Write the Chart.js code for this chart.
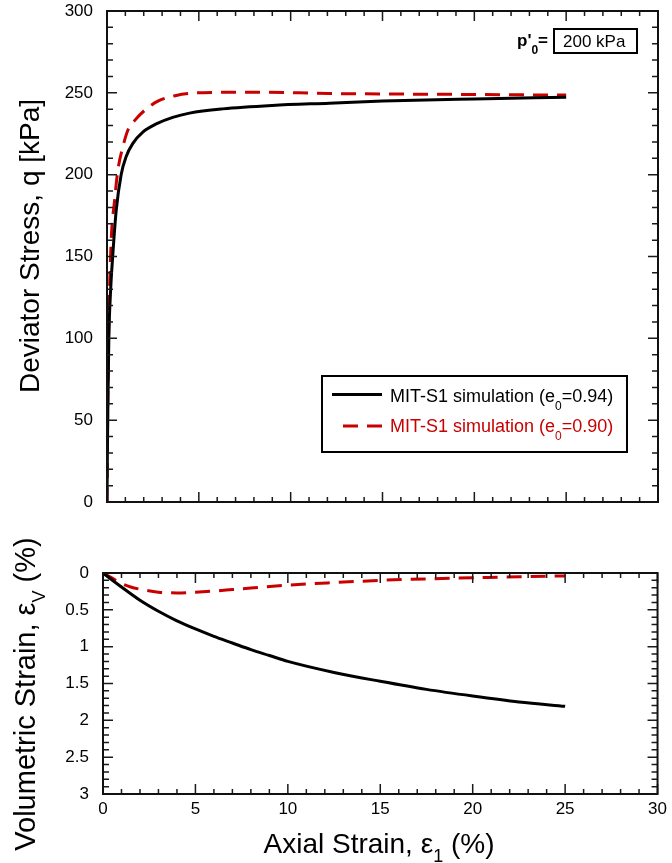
<!DOCTYPE html>
<html><head><meta charset="utf-8">
<script src="https://cdn.jsdelivr.net/npm/chart.js@4.4.1/dist/chart.umd.min.js"></script>
<style>
html,body{margin:0;padding:0;background:#fff;}
#wrap{position:relative;width:672px;height:863px;overflow:hidden;}
#c1{position:absolute;left:0;top:0;}
#c2{position:absolute;left:0;top:520px;}
</style></head><body>
<div id="wrap"><canvas id="c1" width="672" height="520"></canvas><canvas id="c2" width="672" height="343"></canvas></div>
<script>
const FONT = '"Liberation Sans", Arial, Helvetica, sans-serif';

// ---- data: deviator stress q [kPa] vs axial strain (%) ----
const strainQ_e094 = [0, 0.02, 0.05, 0.1, 0.2, 0.31, 0.5, 0.77, 1.04, 1.4, 1.95, 2.68, 3.58, 4.49, 6.3, 9.0, 12.1, 15, 20, 25];
const q_e094       = [0, 30, 60, 100, 130, 150, 178, 200, 211, 219, 226, 231, 235, 237.6, 240.2, 242.3, 243.7, 245, 246.3, 247.3];
const strainQ_e090 = [0, 0.02, 0.05, 0.1, 0.23, 0.41, 0.59, 0.86, 1.13, 1.5, 2.04, 2.77, 3.77, 4.67, 6.0, 8.1, 12.1, 15, 20, 25];
const q_e090       = [0, 35, 70, 110, 160, 184, 202.6, 216.8, 227, 233, 239.2, 244.9, 248.4, 249.8, 250.3, 250.4, 249.6, 249.3, 249, 248.6];

// ---- data: volumetric strain (%) vs axial strain (%) ----
const strainV_e094 = [0, 1, 2, 3, 4, 5, 6, 7, 8, 9, 10, 12.5, 15, 17.5, 20, 22.5, 25];
const volStrain_e094 = [0, 0.19, 0.37, 0.52, 0.65, 0.76, 0.86, 0.95, 1.04, 1.12, 1.2, 1.35, 1.47, 1.58, 1.67, 1.75, 1.81];
const strainV_e090 = [0, 0.5, 1, 1.5, 2, 3, 4, 5, 6, 7, 8, 10, 12.5, 15, 17.5, 20, 22.5, 25];
const volStrain_e090 = [0, 0.07, 0.14, 0.19, 0.22, 0.26, 0.27, 0.26, 0.245, 0.225, 0.205, 0.165, 0.13, 0.1, 0.08, 0.065, 0.05, 0.04];

// ---- axis ranges / ticks ----
const axialRange = [0, 30];       // major 5, minor 1
const qRange = [0, 300];          // major 50, minor 10
const volRange = [0, 3];          // major 0.5, minor 0.1

// ---- texts ----
const legendTexts = [
  [{t:'MIT-S1 simulation (e'},{t:'0',sub:true},{t:'=0.94)'}],
  [{t:'MIT-S1 simulation (e'},{t:'0',sub:true},{t:'=0.90)'}]
];
const pressureLabel = [{t:"p'"},{t:'0',sub:true},{t:'='}];
const pressureValue = '200 kPa';
const titleQ = [{t:'Deviator Stress, q [kPa]'}];
const titleV = [{t:'Volumetric Strain, ε'},{t:'V',sub:true},{t:' (%)'}];
const titleX = [{t:'Axial Strain, ε'},{t:'1',sub:true},{t:' (%)'}];

const BLACK = '#000000';
const RED = '#c80000';

const pts = (xs, ys) => xs.map((x, i) => ({x, y: ys[i]}));

function richWidth(ctx, segs, size, weight, subScale){
  let w = 0;
  for (const s of segs){
    const fs = s.sub ? Math.round(size*subScale) : size;
    ctx.font = `${weight} ${fs}px ${FONT}`;
    w += ctx.measureText(s.t).width;
  }
  return w;
}
function drawRich(ctx, segs, x, y, size, weight, color, subScale, subShift, align){
  const w = richWidth(ctx, segs, size, weight, subScale);
  let cx = align === 'center' ? x - w/2 : x;
  ctx.fillStyle = color;
  ctx.textBaseline = 'alphabetic';
  ctx.textAlign = 'left';
  for (const s of segs){
    const fs = s.sub ? Math.round(size*subScale) : size;
    ctx.font = `${weight} ${fs}px ${FONT}`;
    ctx.fillText(s.t, cx, y + (s.sub ? subShift : 0));
    cx += ctx.measureText(s.t).width;
  }
}

const frameTicks = {
  id: 'frameTicks',
  afterDatasetsDraw(chart, args, o){
    const {ctx, chartArea: a} = chart;
    const x = chart.scales.x, y = chart.scales.y;
    ctx.save();
    ctx.strokeStyle = '#1a1a1a';
    ctx.lineWidth = 1.5;
    ctx.beginPath();
    const nx = Math.round((o.xMax - o.xMin)/o.xMinor);
    for (let i = 0; i <= nx; i++){
      const v = o.xMin + i*o.xMinor;
      const px = x.getPixelForValue(v);
      const major = i % Math.round(o.xMajor/o.xMinor) === 0;
      const L = major ? 10 : 5;
      ctx.moveTo(px, a.bottom); ctx.lineTo(px, a.bottom - L);
      ctx.moveTo(px, a.top); ctx.lineTo(px, a.top + L);
    }
    const ny = Math.round((o.yMax - o.yMin)/o.yMinor);
    for (let i = 0; i <= ny; i++){
      const v = o.yMin + i*o.yMinor;
      const py = y.getPixelForValue(v);
      const major = i % Math.round(o.yMajor/o.yMinor) === 0;
      const L = major ? 10 : 6;
      ctx.moveTo(a.left, py); ctx.lineTo(a.left + L, py);
      ctx.moveTo(a.right, py); ctx.lineTo(a.right - L, py);
    }
    ctx.stroke();
    ctx.lineWidth = 2;
    ctx.strokeStyle = '#111';
    ctx.strokeRect(a.left, a.top, a.right - a.left, a.bottom - a.top);
    ctx.restore();
  }
};

const annotations1 = {
  id: 'annotations1',
  afterDraw(chart){
    const ctx = chart.ctx;
    ctx.save();
    ctx.translate(39, 246);
    ctx.rotate(-Math.PI/2);
    drawRich(ctx, titleQ, 0, 0, 28, 'normal', '#000', 0.65, 8, 'center');
    ctx.restore();
    ctx.save();
    drawRich(ctx, pressureLabel, 517, 46, 17, 'bold', '#000', 0.7, 8, 'left');
    ctx.lineWidth = 2; ctx.strokeStyle = '#000';
    ctx.strokeRect(554, 29, 83, 24);
    ctx.font = `normal 17px ${FONT}`;
    ctx.fillStyle = '#000'; ctx.textAlign = 'left'; ctx.textBaseline = 'alphabetic';
    ctx.fillText(pressureValue, 563, 47);
    // legend
    ctx.fillStyle = '#fff';
    ctx.fillRect(322, 376, 305, 76);
    ctx.strokeRect(322, 376, 305, 76);
    ctx.lineWidth = 3;
    ctx.strokeStyle = BLACK; ctx.setLineDash([]);
    ctx.beginPath(); ctx.moveTo(332, 394.5); ctx.lineTo(382, 394.5); ctx.stroke();
    ctx.strokeStyle = RED; ctx.setLineDash([15, 9]);
    ctx.beginPath(); ctx.moveTo(343, 426); ctx.lineTo(382, 426); ctx.stroke();
    ctx.setLineDash([]);
    drawRich(ctx, legendTexts[0], 390, 402, 18, 'normal', BLACK, 0.67, 8, 'left');
    drawRich(ctx, legendTexts[1], 390, 432, 18, 'normal', RED, 0.67, 8, 'left');
    ctx.restore();
  }
};

const annotations2 = {
  id: 'annotations2',
  afterDraw(chart){
    const ctx = chart.ctx;
    ctx.save();
    ctx.translate(35, 174);
    ctx.rotate(-Math.PI/2);
    drawRich(ctx, titleV, 0, 0, 29, 'normal', '#000', 0.62, 10, 'center');
    ctx.restore();
    ctx.save();
    drawRich(ctx, titleX, 379, 333, 28, 'normal', '#000', 0.63, 9, 'center');
    ctx.restore();
  }
};

Chart.defaults.color = '#000';
Chart.defaults.font.family = FONT;

const lineDs = (label, data, color, dashed) => ({
  label, data,
  borderColor: color, backgroundColor: color,
  borderWidth: 3, borderDash: dashed ? [15, 9] : [],
  pointRadius: 0, showLine: true, fill: false,
  cubicInterpolationMode: 'monotone'
});

new Chart(document.getElementById('c1'), {
  type: 'scatter',
  data: { datasets: [
    lineDs('MIT-S1 simulation (e0=0.94)', pts(strainQ_e094, q_e094), BLACK, false),
    lineDs('MIT-S1 simulation (e0=0.90)', pts(strainQ_e090, q_e090), RED, true)
  ]},
  options: {
    responsive: false, animation: false, devicePixelRatio: 1,
    layout: { padding: { top: 11, right: 14, left: 0, bottom: 0 } },
    plugins: { legend: { display: false }, tooltip: { enabled: false },
      frameTicks: { xMin: 0, xMax: 30, xMinor: 1, xMajor: 5, yMin: 0, yMax: 300, yMinor: 10, yMajor: 50 } },
    scales: {
      x: { type: 'linear', min: axialRange[0], max: axialRange[1],
        grid: { display: false }, border: { display: false },
        ticks: { display: false },
        afterFit: s => { s.height = 18; s.paddingLeft = 0; s.paddingRight = 0; } },
      y: { type: 'linear', min: qRange[0], max: qRange[1],
        grid: { display: false, drawTicks: false }, border: { display: false },
        ticks: { stepSize: 50, padding: 14, font: { size: 17 }, color: '#000' },
        afterFit: s => { s.width = 107; s.paddingTop = 0; s.paddingBottom = 0; } }
    }
  },
  plugins: [frameTicks, annotations1]
});

new Chart(document.getElementById('c2'), {
  type: 'scatter',
  data: { datasets: [
    lineDs('MIT-S1 simulation (e0=0.94)', pts(strainV_e094, volStrain_e094), BLACK, false),
    lineDs('MIT-S1 simulation (e0=0.90)', pts(strainV_e090, volStrain_e090), RED, true)
  ]},
  options: {
    responsive: false, animation: false, devicePixelRatio: 1,
    layout: { padding: { top: 53, right: 13, left: 0, bottom: 0 } },
    plugins: { legend: { display: false }, tooltip: { enabled: false },
      frameTicks: { xMin: 0, xMax: 30, xMinor: 1, xMajor: 5, yMin: 0, yMax: 3, yMinor: 0.1, yMajor: 0.5 } },
    scales: {
      x: { type: 'linear', min: axialRange[0], max: axialRange[1],
        grid: { display: false, drawTicks: false }, border: { display: false },
        ticks: { stepSize: 5, padding: 5, font: { size: 17 }, color: '#000', maxRotation: 0 },
        afterFit: s => { s.height = 69; } },
      y: { type: 'linear', reverse: true, min: volRange[0], max: volRange[1],
        grid: { display: false, drawTicks: false }, border: { display: false },
        ticks: { stepSize: 0.5, padding: 14, font: { size: 17 }, color: '#000',
          callback: v => String(Math.round(v*10)/10) },
        afterFit: s => { s.width = 103; s.paddingTop = 0; s.paddingBottom = 0; } }
    }
  },
  plugins: [frameTicks, annotations2]
});
</script>
</body></html>
